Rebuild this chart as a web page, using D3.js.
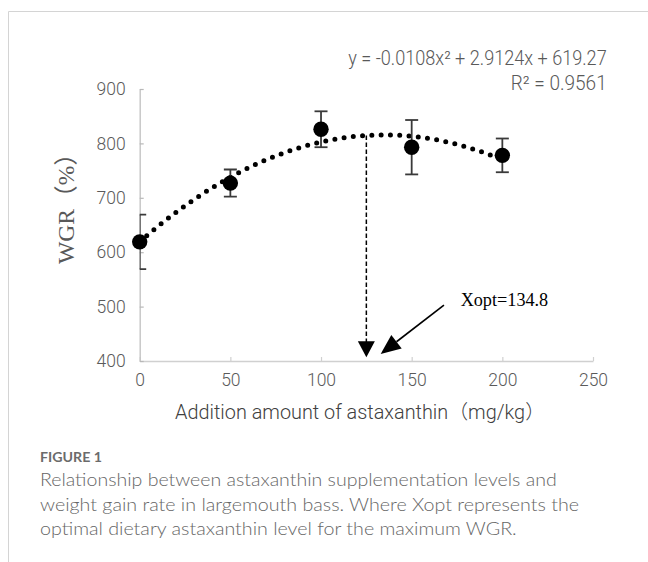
<!DOCTYPE html>
<html>
<head>
<meta charset="utf-8">
<script src="https://cdn.jsdelivr.net/npm/d3@7"></script>
<style>
  html, body { margin: 0; padding: 0; background: #fff; }
  svg { display: block; }
</style>
</head>
<body>
<svg id="chart" width="648" height="562"></svg>
<script>
// ---- data ----
const xLevels = [0, 50, 100, 150, 200];          // mg/kg
const wgrMean = [619, 727, 826, 793, 778];       // WGR (%)
const wgrErr  = [50, 25, 33, 50, 31];            // error bar half-length
const xTicks  = [0, 50, 100, 150, 200, 250];
const yTicks  = [400, 500, 600, 700, 800, 900];
const fitCoef = [-0.0108, 2.9124, 619.27];       // y = a x^2 + b x + c
const fitRange = [0, 200];
const xOptDrawn = 125;                           // where the dashed drop line sits
const xOptLabel = "Xopt=134.8";
const eqLabel = "y = -0.0108x² + 2.9124x + 619.27";
const r2Label = "R² = 0.9561";
const xTitle = "Addition amount of astaxanthin（mg/kg）";
const yTitle = "WGR（%）";
const figLabel = "FIGURE 1";
const captionLines = [
  "Relationship between astaxanthin supplementation levels and",
  "weight gain rate in largemouth bass. Where Xopt represents the",
  "optimal dietary astaxanthin level for the maximum WGR."
];

// ---- setup ----
const svg = d3.select("#chart");
const x = d3.scaleLinear().domain([0, 250]).range([139.7, 593]);
const y = d3.scaleLinear().domain([400, 900]).range([361, 89]);
const fit = v => fitCoef[0] * v * v + fitCoef[1] * v + fitCoef[2];

// frame
svg.append("line").attr("x1", 8.5).attr("x2", 648).attr("y1", 11.5).attr("y2", 11.5)
  .attr("stroke", "#d4d4d4").attr("stroke-width", 1);
svg.append("line").attr("x1", 8.5).attr("x2", 8.5).attr("y1", 11.5).attr("y2", 562)
  .attr("stroke", "#d4d4d4").attr("stroke-width", 1);

// clip for error bars (plot area)
svg.append("clipPath").attr("id", "plotclip").append("rect")
  .attr("x", x(0)).attr("y", 0).attr("width", x(250) - x(0)).attr("height", y(400));

// axes
const xAxis = d3.axisBottom(x).tickValues(xTicks).tickSizeInner(-4).tickSizeOuter(0).tickPadding(10);
const gx = svg.append("g").attr("transform", `translate(0,${y(400)})`).call(xAxis)
  .attr("font-size", null).attr("font-family", null);
gx.select(".domain").attr("stroke", "#d0d0d0").attr("stroke-width", 1.6);
gx.selectAll(".tick line").attr("stroke", "#d0d0d0").attr("stroke-width", 1.2);
gx.selectAll(".tick text").attr("font-family", "Roboto, sans-serif").attr("font-size", 17.5)
  .attr("font-weight", 300).attr("fill", "#5a5a5a").attr("dy", "0.88em");

const yAxis = d3.axisLeft(y).tickValues(yTicks).tickSizeInner(-4).tickSizeOuter(0).tickPadding(14);
const gy = svg.append("g").attr("transform", `translate(${x(0)},0)`).call(yAxis)
  .attr("font-size", null).attr("font-family", null);
gy.select(".domain").attr("stroke", "#c4c4c4").attr("stroke-width", 1.4);
gy.selectAll(".tick line").attr("stroke", "#b8b8b8").attr("stroke-width", 1.2);
gy.selectAll(".tick text").attr("font-family", "Roboto, sans-serif").attr("font-size", 17.5)
  .attr("font-weight", 300).attr("fill", "#5a5a5a");

// fitted trend line (dotted)
const fitX = d3.range(fitRange[0], fitRange[1] + 0.5, 2);
svg.append("path")
  .datum(fitX)
  .attr("d", d3.line().x(d => x(d)).y(d => y(fit(d))).curve(d3.curveMonotoneX))
  .attr("fill", "none").attr("stroke", "#000").attr("stroke-width", 5)
  .attr("stroke-linecap", "round").attr("stroke-dasharray", "0 9.3");

// error bars
const data = xLevels.map((v, i) => ({ x: v, m: wgrMean[i], e: wgrErr[i] }));
const eb = svg.append("g").attr("clip-path", "url(#plotclip)")
  .attr("stroke", "#3a3a3a").attr("stroke-width", 1.8).attr("fill", "none");
const capHalf = 6.5;
data.forEach(d => {
  eb.append("line").attr("x1", x(d.x)).attr("x2", x(d.x)).attr("y1", y(d.m - d.e)).attr("y2", y(d.m + d.e));
  eb.append("line").attr("x1", x(d.x) - capHalf).attr("x2", x(d.x) + capHalf).attr("y1", y(d.m + d.e)).attr("y2", y(d.m + d.e));
  eb.append("line").attr("x1", x(d.x) - capHalf).attr("x2", x(d.x) + capHalf).attr("y1", y(d.m - d.e)).attr("y2", y(d.m - d.e));
});

// markers
svg.append("g").selectAll("circle").data(data).join("circle")
  .attr("cx", d => x(d.x)).attr("cy", d => y(d.m)).attr("r", 7.7).attr("fill", "#000");

// dashed drop line at Xopt with down arrow
const tipY = 407;
svg.append("line")
  .attr("x1", x(xOptDrawn)).attr("x2", x(xOptDrawn))
  .attr("y1", y(fit(xOptDrawn))).attr("y2", y(tipY) - 14)
  .attr("stroke", "#000").attr("stroke-width", 1.5).attr("stroke-dasharray", "4.5 2.5");
{
  const tx = x(xOptDrawn), ty = y(tipY);
  svg.append("path")
    .attr("d", `M${tx},${ty} L${tx - 8.5},${ty - 16} L${tx + 8.5},${ty - 16} Z`)
    .attr("fill", "#000");
}

// diagonal arrow pointing to the Xopt position
const arrowFrom = [167.8, 502.9];
const arrowTo = [132.9, 412.9];
{
  const x1 = x(arrowFrom[0]), y1 = y(arrowFrom[1]);
  const x2 = x(arrowTo[0]), y2 = y(arrowTo[1]);
  const ang = Math.atan2(y2 - y1, x2 - x1);
  const L = 20, W = 8.5;
  const bx = x2 - L * Math.cos(ang), by = y2 - L * Math.sin(ang);
  const px = -Math.sin(ang), py = Math.cos(ang);
  svg.append("line").attr("x1", x1).attr("y1", y1).attr("x2", bx).attr("y2", by)
    .attr("stroke", "#000").attr("stroke-width", 1.6);
  svg.append("path")
    .attr("d", `M${x2},${y2} L${bx + W * px},${by + W * py} L${bx - W * px},${by - W * py} Z`)
    .attr("fill", "#000");
}

svg.append("text")
  .attr("x", x(177)).attr("y", y(501.6))
  .attr("font-family", "'Liberation Serif', 'Times New Roman', serif")
  .attr("font-size", 19.5).attr("fill", "#000")
  .attr("textLength", 87.6).attr("lengthAdjust", "spacingAndGlyphs")
  .text(xOptLabel);

// equation labels
svg.append("text").attr("x", 606.7).attr("y", 65).attr("text-anchor", "end")
  .attr("font-family", "Roboto, sans-serif").attr("font-weight", 300)
  .attr("font-size", 19.5).attr("fill", "#595959")
  .attr("textLength", 258.5).attr("lengthAdjust", "spacingAndGlyphs")
  .text(eqLabel);
svg.append("text").attr("x", 606.7).attr("y", 90).attr("text-anchor", "end")
  .attr("font-family", "Roboto, sans-serif").attr("font-weight", 300)
  .attr("font-size", 19.5).attr("fill", "#595959")
  .attr("textLength", 96).attr("lengthAdjust", "spacingAndGlyphs")
  .text(r2Label);

// axis titles
svg.append("text").attr("x", 175).attr("y", 419)
  .attr("font-family", "Roboto, 'Noto Sans CJK SC', sans-serif").attr("font-weight", 300)
  .attr("font-size", 19.5).attr("fill", "#404040")
  .attr("textLength", 370).attr("lengthAdjust", "spacingAndGlyphs")
  .text(xTitle);

svg.append("text")
  .attr("transform", "translate(74,203) rotate(-90)")
  .attr("text-anchor", "middle")
  .attr("font-family", "'Liberation Serif', 'Noto Sans CJK SC', serif")
  .attr("font-size", 24).attr("fill", "#595959")
  .attr("textLength", 122).attr("lengthAdjust", "spacingAndGlyphs")
  .text(yTitle);

// caption
svg.append("text").attr("x", 40).attr("y", 461.7)
  .attr("font-family", "Lato, 'Open Sans', sans-serif").attr("font-weight", 700)
  .attr("font-size", 13.5).attr("fill", "#6b6b6b")
  .attr("textLength", 62).attr("lengthAdjust", "spacingAndGlyphs")
  .text(figLabel);

const capWidths = [516.7, 539, 476.7];
const capBase = [486.3, 510.8, 535.3];
captionLines.forEach((t, i) => {
  svg.append("text").attr("x", 40).attr("y", capBase[i])
    .attr("font-family", "Lato, 'Open Sans', sans-serif").attr("font-weight", 300)
    .attr("font-size", 18).attr("fill", "#666666")
    .attr("textLength", capWidths[i]).attr("lengthAdjust", "spacingAndGlyphs")
    .text(t);
});
</script>
</body>
</html>
